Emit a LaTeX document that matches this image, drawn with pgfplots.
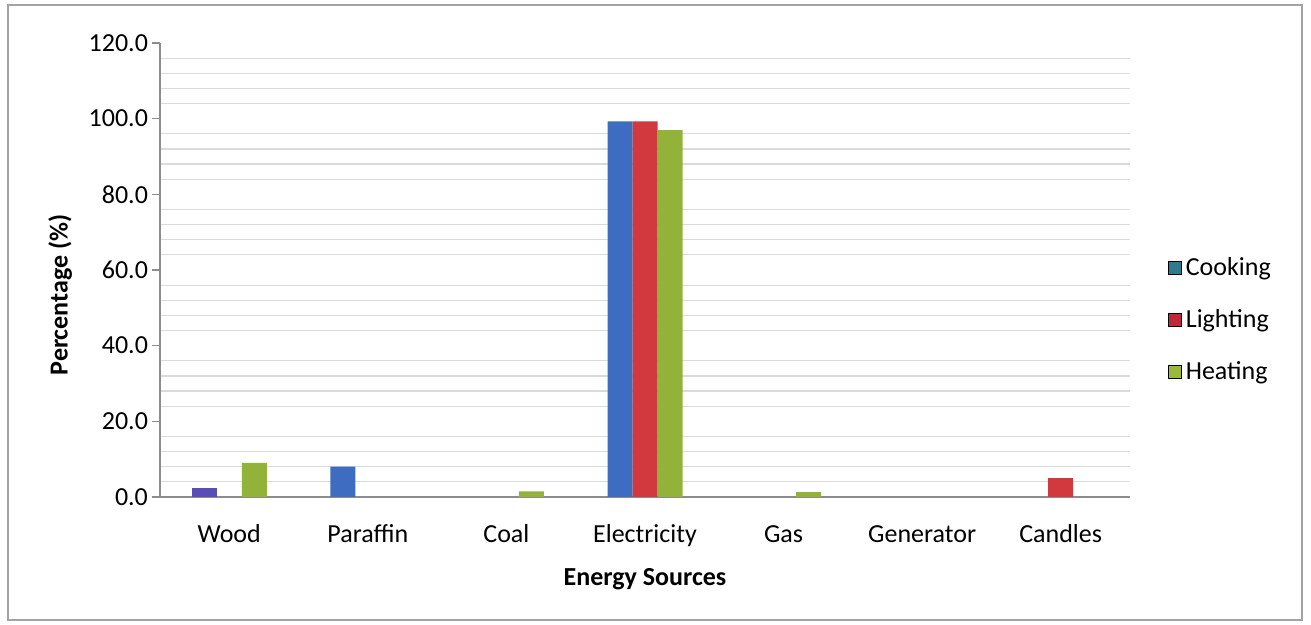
\documentclass[border=0pt]{standalone}
\usepackage{pgfplots}
\pgfplotsset{compat=1.18}
\usepackage{fontspec}
\setmainfont{Carlito}

\definecolor{cookbar}{HTML}{3D6CC0}
\definecolor{woodbar}{HTML}{5A4EB6}
\definecolor{lightbar}{HTML}{D2393F}
\definecolor{heatbar}{HTML}{92B23A}
\definecolor{cookleg}{HTML}{2F7A8C}
\definecolor{lightleg}{HTML}{C0283A}
\definecolor{heatleg}{HTML}{9AB83A}
\definecolor{gridc}{HTML}{DADADA}
\definecolor{axisc}{HTML}{8C8C8C}

\begin{document}
\begin{tikzpicture}
\useasboundingbox (0pt,0pt) rectangle (655.5pt,312.5pt);
\fill[white] (0pt,0pt) rectangle (655.5pt,312.5pt);
\draw[color=axisc!80, line width=0.8pt] (4pt,2.5pt) rectangle (651pt,310pt);
\begin{axis}[
  at={(80pt,64pt)}, anchor=south west,
  width=485pt, height=227pt, scale only axis,
  font=\fontsize{13}{15}\selectfont,
  xmin=-0.5, xmax=6.5, ymin=0, ymax=120,
  axis lines*=left,
  axis line style={color=axisc, line width=0.7pt},
  xtick={0,...,6},
  xticklabels={Wood,Paraffin,Coal,Electricity,Gas,Generator,Candles},
  x tick style={draw=none},
  xticklabel style={anchor=base, yshift=-19pt},
  ytick={0,20,...,120},
  ytick pos=left,
  tick align=outside,
  major tick length=4pt,
  y tick style={color=axisc, line width=0.7pt},
  yticklabel style={xshift=1.5pt, /pgf/number format/.cd, fixed, fixed zerofill, precision=1, assume math mode=true},
  minor ytick={4,8,12,16,24,28,32,36,44,48,52,56,64,68,72,76,84,88,92,96,104,108,112,116},
  minor tick length=0pt,
  yminorgrids,
  minor grid style={color=gridc, line width=0.6pt},
  xlabel={\textbf{Energy Sources}},
  x label style={at={(axis description cs:0.5,0)}, anchor=center, yshift=-41pt},
  ylabel={\textbf{Percentage (\%)}},
  y label style={at={(axis description cs:-0.103,0.445)}, anchor=center},
  legend image code/.code={\fill[#1] (0pt,-3.2pt) rectangle (6.4pt,3.2pt);},
  legend style={at={(1.039,0.537)}, anchor=north west, draw=none, fill=none,
    inner sep=0pt, row sep=11.5pt, font=\fontsize{13}{15}\selectfont,
    nodes={inner sep=2pt}},
  legend cell align=left,
]
% Cooking
\addplot[ybar, bar width=12.5pt, bar shift=-12.5pt, fill=woodbar, draw=none, forget plot]
  coordinates {(0,2.4)};
\addplot[ybar, bar width=12.5pt, bar shift=-12.5pt, fill=cookbar, draw=none, forget plot]
  coordinates {(1,8.0) (3,99.3)};
% Lighting
\addplot[ybar, bar width=12.5pt, bar shift=0pt, fill=lightbar, draw=none, forget plot]
  coordinates {(3,99.3) (6,5.0)};
% Heating
\addplot[ybar, bar width=12.5pt, bar shift=12.5pt, fill=heatbar, draw=none, forget plot]
  coordinates {(0,9.0) (2,1.5) (3,97.0) (4,1.3)};

\addlegendimage{fill=cookleg}
\addlegendentry{Cooking}
\addlegendimage{fill=lightleg}
\addlegendentry{Lighting}
\addlegendimage{fill=heatleg}
\addlegendentry{Heating}
\end{axis}
\end{tikzpicture}
\end{document}
